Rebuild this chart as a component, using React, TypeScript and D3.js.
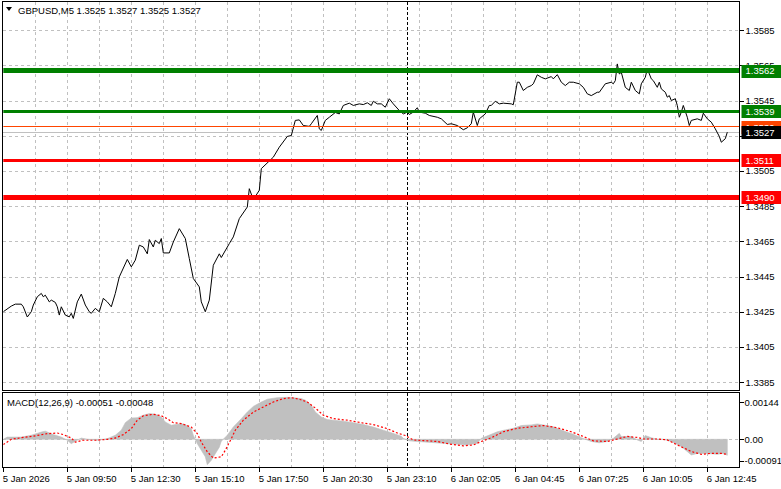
import React from "react";
import * as d3 from "d3";

// ---------- DATA ----------
const symbolLabel = "GBPUSD,M5";
const ohlcValues = [1.3525, 1.3527, 1.3525, 1.3527];
const macdLabel = "MACD(12,26,9)";
const macdCurrent = [-0.00051, -0.00048];

// [bar index, close]
const closeSeries: [number, number][] = [
  [0, 1.3425], [4, 1.34282], [6, 1.34293], [9, 1.34293], [10, 1.34278], [12, 1.3422], [14, 1.3425],
  [15, 1.34288], [17, 1.34335], [19, 1.34354], [20, 1.34335], [21, 1.34344], [23, 1.34306], [24, 1.34316],
  [26, 1.34303], [27, 1.34278], [28, 1.34231], [29, 1.34278], [31, 1.34231], [33, 1.34221], [34, 1.34241],
  [35, 1.34212], [37, 1.34306], [39, 1.3435], [41, 1.34288], [43, 1.3425], [44, 1.34241], [46, 1.34269],
  [48, 1.3425], [50, 1.34326], [52, 1.34306], [54, 1.34278], [56, 1.34354], [58, 1.34448], [62, 1.34547],
  [64, 1.34505], [66, 1.34543], [68, 1.34628], [70, 1.34618], [72, 1.34579], [73, 1.3466], [75, 1.34618],
  [76, 1.34656], [78, 1.34637], [79, 1.34666], [80, 1.34584], [83, 1.34584], [85, 1.34646], [88, 1.34722],
  [91, 1.34666], [93, 1.34552], [95, 1.34439], [98, 1.34391], [99, 1.34306], [101, 1.3425], [103, 1.34316],
  [105, 1.34514], [108, 1.34579], [109, 1.34558], [113, 1.34637], [115, 1.34675], [118, 1.34779],
  [122, 1.34845], [123, 1.34949], [125, 1.34887], [128, 1.3494], [129, 1.35063], [135, 1.35128],
  [138, 1.35185], [142, 1.35246], [144, 1.35251], [146, 1.35337], [148, 1.3534], [150, 1.35308],
  [153, 1.35303], [154, 1.35318], [157, 1.35365], [158, 1.35289], [159, 1.3528], [161, 1.35337],
  [163, 1.35355], [166, 1.35382], [168, 1.35374], [170, 1.35422], [173, 1.35435], [175, 1.35422],
  [178, 1.35431], [180, 1.35427], [182, 1.35437], [184, 1.35422], [185, 1.35446], [187, 1.35431],
  [189, 1.35431], [191, 1.35412], [193, 1.3546], [195, 1.35431], [198, 1.35393], [200, 1.35374],
  [202, 1.35384], [203, 1.35371], [205, 1.35384], [207, 1.35409], [208, 1.35384], [211, 1.35378],
  [213, 1.35365], [217, 1.35355], [219, 1.35346], [222, 1.35314], [224, 1.35318], [227, 1.35308],
  [230, 1.35284], [232, 1.35295], [234, 1.35318], [235, 1.35384], [237, 1.35308], [238, 1.35346],
  [241, 1.35374], [243, 1.35422], [244, 1.35422], [246, 1.35446], [248, 1.35431], [250, 1.35435],
  [254, 1.35431], [255, 1.35426], [257, 1.35554], [258, 1.35554], [260, 1.35507], [262, 1.35525],
  [264, 1.35535], [265, 1.35545], [267, 1.35596], [269, 1.35582], [271, 1.35573], [274, 1.35586],
  [275, 1.35573], [277, 1.35597], [279, 1.35554], [281, 1.35535], [283, 1.35554], [285, 1.35554],
  [288, 1.35545], [290, 1.35525], [292, 1.35488], [294, 1.35478], [297, 1.35497], [298, 1.35497],
  [301, 1.35545], [304, 1.35554], [305, 1.35545], [306, 1.35563], [307, 1.35658], [308, 1.35601],
  [309, 1.3561], [311, 1.35525], [313, 1.35507], [314, 1.35554], [316, 1.35507], [318, 1.35488],
  [319, 1.35545], [321, 1.35582], [322, 1.3563], [324, 1.35573], [325, 1.35563], [327, 1.35525],
  [328, 1.35554], [329, 1.35516], [331, 1.35497], [332, 1.35469], [333, 1.35478], [334, 1.3545],
  [336, 1.3546], [337, 1.35422], [338, 1.35355], [339, 1.35384], [340, 1.35422], [342, 1.35355],
  [343, 1.35308], [344, 1.35337], [347, 1.35346], [349, 1.35337], [350, 1.35378], [352, 1.35346],
  [354, 1.35327], [356, 1.35289], [358, 1.35246], [359, 1.35213], [361, 1.35233], [362, 1.3527],
];

// [bar index, MACD main (histogram)]
const macdSeries: [number, number][] = [
  [0, 0.0], [2, 0.00007], [9, 0.00007], [14, 0.00013], [19, 0.00023], [21, 0.00026], [25, 0.00015],
  [29, 0.00007], [32, -0.00003], [34, -0.00014], [36, -0.00006], [39, 0.00004], [42, 0.0], [47, -0.00003],
  [52, 0.00002], [56, 0.00013], [59, 0.00029], [61, 0.00053], [64, 0.00068], [67, 0.00069], [70, 0.00077],
  [73, 0.00082], [76, 0.0008], [79, 0.00071], [81, 0.00055], [84, 0.00045], [86, 0.00047], [89, 0.0005],
  [91, 0.00047], [94, 0.00034], [95, 0.00013], [97, -0.00014], [99, -0.00035], [101, -0.00056],
  [102, -0.00081], [104, -0.00067], [106, -0.00046], [108, -0.00025], [109, -0.00006], [112, 0.00013],
  [115, 0.00039], [119, 0.00066], [122, 0.00087], [125, 0.00105], [129, 0.00119], [132, 0.00128],
  [137, 0.00133], [142, 0.00134], [145, 0.00133], [149, 0.0013], [151, 0.00125], [154, 0.00109],
  [156, 0.00087], [159, 0.00071], [162, 0.00063], [165, 0.00061], [170, 0.00058], [175, 0.00053],
  [180, 0.00047], [185, 0.00039], [190, 0.00029], [194, 0.00021], [199, 0.0001], [200, 0.00003],
  [203, -0.00005], [207, -0.00007], [214, -0.0001], [220, -0.00013], [227, -0.00016], [232, -0.00018],
  [237, -0.00013], [239, 0.00003], [244, 0.00016], [247, 0.00024], [251, 0.0003], [255, 0.00035],
  [259, 0.00044], [264, 0.00046], [267, 0.00049], [270, 0.00046], [275, 0.0004], [280, 0.00027],
  [285, 0.00016], [289, 0.00005], [294, -0.00007], [298, -0.00011], [302, -0.00007], [305, 0.00003],
  [308, 0.00019], [309, 0.00009], [314, 0.00009], [317, -0.00002], [319, -0.00007], [321, 0.00012],
  [324, 0.00005], [327, 0.0], [330, 0.0], [334, -0.00007], [339, -0.00023], [344, -0.0005],
  [347, -0.00045], [352, -0.00045], [357, -0.00048], [360, -0.00045], [362, -0.00051],
];

// [bar index, MACD signal]
const signalSeries: [number, number][] = [
  [0, -0.00017], [4, 0.0], [9, 0.00005], [15, 0.0001], [22, 0.00018], [27, 0.0002], [30, 0.00015],
  [34, 0.00004], [36, -0.00009], [40, -0.00003], [47, -0.00003], [52, 0.0], [56, 0.00004], [60, 0.00015],
  [64, 0.00034], [67, 0.00061], [70, 0.00075], [75, 0.0008], [79, 0.00075], [82, 0.00066], [85, 0.00053],
  [89, 0.0005], [94, 0.00039], [97, 0.00018], [99, -0.00009], [102, -0.0004], [105, -0.0006],
  [109, -0.00056], [111, -0.00035], [114, 0.00002], [116, 0.00029], [120, 0.00061], [125, 0.00087],
  [130, 0.00103], [135, 0.00119], [140, 0.0013], [144, 0.00133], [148, 0.00128], [152, 0.00119],
  [156, 0.001], [160, 0.00077], [165, 0.00066], [172, 0.00061], [179, 0.00053], [185, 0.00047],
  [192, 0.00034], [197, 0.0002], [201, 0.00012], [205, -0.00002], [210, -0.00004], [217, -0.00007],
  [224, -0.00016], [230, -0.00021], [235, -0.00018], [239, -0.00007], [244, 0.00005], [250, 0.00024],
  [257, 0.00035], [264, 0.0004], [270, 0.00044], [277, 0.00037], [284, 0.00024], [290, 0.00009],
  [295, -0.00005], [302, -0.00007], [307, 0.00001], [312, 0.00009], [317, 0.00006], [320, 0.00001],
  [327, 0.00001], [332, -0.00002], [337, -0.00018], [344, -0.00039], [349, -0.00048], [354, -0.00045],
  [359, -0.00045], [362, -0.00048],
];

const priceTicks = [1.3585, 1.3565, 1.3545, 1.3525, 1.3505, 1.3485, 1.3465, 1.3445, 1.3425, 1.3405, 1.3385];
const macdTicks = [0.00144, 0.0, -0.00091];
const macdTickLabels = ["0.00144", "0.00", "-0.00091"];

const timeLabels = [
  "5 Jan 2026", "5 Jan 09:50", "5 Jan 12:30", "5 Jan 15:10", "5 Jan 17:50", "5 Jan 20:30",
  "5 Jan 23:10", "6 Jan 02:05", "6 Jan 04:45", "6 Jan 07:25", "6 Jan 10:05", "6 Jan 12:45",
];
const timeLabelBars = [0, 32, 64, 96, 128, 160, 192, 224, 256, 288, 320, 352];
const gridBars = [16, 32, 48, 64, 80, 96, 112, 128, 144, 160, 176, 192, 208, 224, 240, 256, 272, 288, 304, 320, 336, 352];
const daySeparatorBar = 202;
const visibleBars = 368;

// horizontal levels (price), drawn in order
const levelPrices = [1.3562, 1.3539, 1.353, 1.3511, 1.349];
const bidPrice = 1.3527;

// ---------- STYLES ----------
const levelColors = ["#008000", "#008000", "#FF4500", "#FF0000", "#FF0000"];
const levelWidths = [5, 3, 1, 3, 5];
const FONT = "'Liberation Sans', Arial, sans-serif";
const FS = 9.5;

export default function App() {
  const W = 781, H = 489;
  const L = 3.3, R = 739.5;
  const mainTop = 1.5, mainBot = 390.5;
  const subTop = 392.5, subBot = 467.5;

  const x = d3.scaleLinear().domain([0, visibleBars]).range([L, L + visibleBars * 2]);
  const y = d3.scaleLinear().domain([1.338024, 1.360126]).range([mainBot, mainTop]);
  const ym = d3.scaleLinear().domain([-0.00091, 0.00144]).range([467.8, 394.2]);

  const priceLine = d3.line<[number, number]>().x(d => x(d[0])).y(d => y(d[1]));
  const histArea = d3.area<[number, number]>().x(d => x(d[0])).y0(ym(0)).y1(d => ym(d[1]));
  const sigLine = d3.line<[number, number]>().x(d => x(d[0])).y(d => ym(d[1]));

  const crisp = (v: number) => Math.round(v) + 0.5;
  const gridStyle = { stroke: "#C0C0C0", strokeWidth: 1, strokeDasharray: "3,3", shapeRendering: "crispEdges" as const };

  const levelBoxes = [
    ...levelPrices.map((p, i) => ({ p, color: levelColors[i] })),
    { p: bidPrice, color: "#000000" },
  ];

  return (
    <svg width={W} height={H} style={{ position: "absolute", left: 0, top: 0, background: "#fff" }}
      fontFamily={FONT} fontSize={FS}>
      <rect x={0} y={0} width={W} height={H} fill="#fff" />
      <defs>
        <clipPath id="mainClip"><rect x={L} y={mainTop} width={R - L} height={mainBot - mainTop} /></clipPath>
        <clipPath id="subClip"><rect x={L} y={subTop} width={R - L} height={subBot - subTop} /></clipPath>
      </defs>

      {/* grid main */}
      {priceTicks.map((t, i) => (
        <line key={"hg" + i} x1={L} x2={R} y1={crisp(y(t))} y2={crisp(y(t))} {...gridStyle} />
      ))}
      {gridBars.map((b, i) => (
        <line key={"vg" + i} x1={crisp(x(b))} x2={crisp(x(b))} y1={mainTop} y2={mainBot} {...gridStyle} />
      ))}
      {/* grid sub */}
      <line x1={L} x2={R} y1={crisp(ym(0))} y2={crisp(ym(0))} {...gridStyle} />
      {gridBars.map((b, i) => (
        <line key={"vs" + i} x1={crisp(x(b))} x2={crisp(x(b))} y1={subTop} y2={subBot} {...gridStyle} />
      ))}

      {/* day separator */}
      {[daySeparatorBar].map((b, i) => (
        <g key={"sep" + i}>
          <line x1={crisp(x(b))} x2={crisp(x(b))} y1={mainTop} y2={mainBot} stroke="#000" strokeDasharray="3,2" shapeRendering="crispEdges" />
          <line x1={crisp(x(b))} x2={crisp(x(b))} y1={subTop} y2={subBot} stroke="#000" strokeDasharray="3,2" shapeRendering="crispEdges" />
        </g>
      ))}

      {/* bid line */}
      <line x1={L} x2={R} y1={crisp(y(bidPrice))} y2={crisp(y(bidPrice))} stroke="#C0C0C0" shapeRendering="crispEdges" />

      {/* price line */}
      <g clipPath="url(#mainClip)">
        <path d={priceLine(closeSeries) || ""} fill="none" stroke="#000" strokeWidth={1} strokeLinejoin="miter" />
        {levelPrices.map((p, i) => (
          <line key={"lv" + i} x1={L} x2={R} y1={y(p)} y2={y(p)} stroke={levelColors[i]} strokeWidth={levelWidths[i]} shapeRendering="crispEdges" />
        ))}
      </g>

      {/* MACD */}
      <g clipPath="url(#subClip)">
        <path d={histArea(macdSeries) || ""} fill="#C0C0C0" stroke="#C0C0C0" strokeWidth={0.6} />
        <path d={sigLine(signalSeries) || ""} fill="none" stroke="#FF0000" strokeWidth={1.2} strokeDasharray="2,2" />
      </g>

      {/* frames */}
      <rect x={2.5} y={mainTop} width={R - 2.5} height={mainBot - mainTop} fill="none" stroke="#000" shapeRendering="crispEdges" />
      <rect x={2.5} y={subTop} width={R - 2.5} height={subBot - subTop} fill="none" stroke="#000" shapeRendering="crispEdges" />

      {/* price axis */}
      {priceTicks.map((t, i) => (
        <g key={"pt" + i}>
          <line x1={R} x2={R + 4} y1={crisp(y(t))} y2={crisp(y(t))} stroke="#000" shapeRendering="crispEdges" />
          <text x={745.5} y={y(t) + 3.5} fill="#000">{t.toFixed(4)}</text>
        </g>
      ))}

      {/* level boxes */}
      {levelBoxes.map((b, i) => (
        <g key={"lb" + i}>
          <rect x={741.5} y={Math.round(y(b.p)) - 6} width={40} height={13} fill={b.color} />
          <text x={745.5} y={y(b.p) + 3.6} fill="#fff">{b.p.toFixed(4)}</text>
        </g>
      ))}

      {/* macd axis */}
      {macdTicks.map((t, i) => {
        const ty = i === 0 ? subTop + 9.5 : i === macdTicks.length - 1 ? subBot - 7 : ym(t);
        return (
          <g key={"mt" + i}>
            <line x1={R} x2={R + 4} y1={crisp(ty)} y2={crisp(ty)} stroke="#000" shapeRendering="crispEdges" />
            <text x={744.5} y={ty + 3.5} fill="#000">{macdTickLabels[i]}</text>
          </g>
        );
      })}

      {/* time axis */}
      {timeLabelBars.map((b, i) => (
        <g key={"tl" + i}>
          <line x1={crisp(x(b))} x2={crisp(x(b))} y1={subBot} y2={subBot + 4} stroke="#000" shapeRendering="crispEdges" />
          <text x={x(b) - 0.5} y={481.5} fill="#000">{timeLabels[i]}</text>
        </g>
      ))}

      {/* title */}
      <path d="M6,7 L12,7 L9,11 Z" fill="#000" />
      <text x={18} y={13.5} fill="#000">
        {symbolLabel + "  " + ohlcValues.map(v => v.toFixed(4)).join(" ")}
      </text>

      {/* MACD label */}
      <text x={7} y={405.5} fill="#000">
        {macdLabel + " " + macdCurrent.map(v => v.toFixed(5)).join(" ")}
      </text>
    </svg>
  );
}
